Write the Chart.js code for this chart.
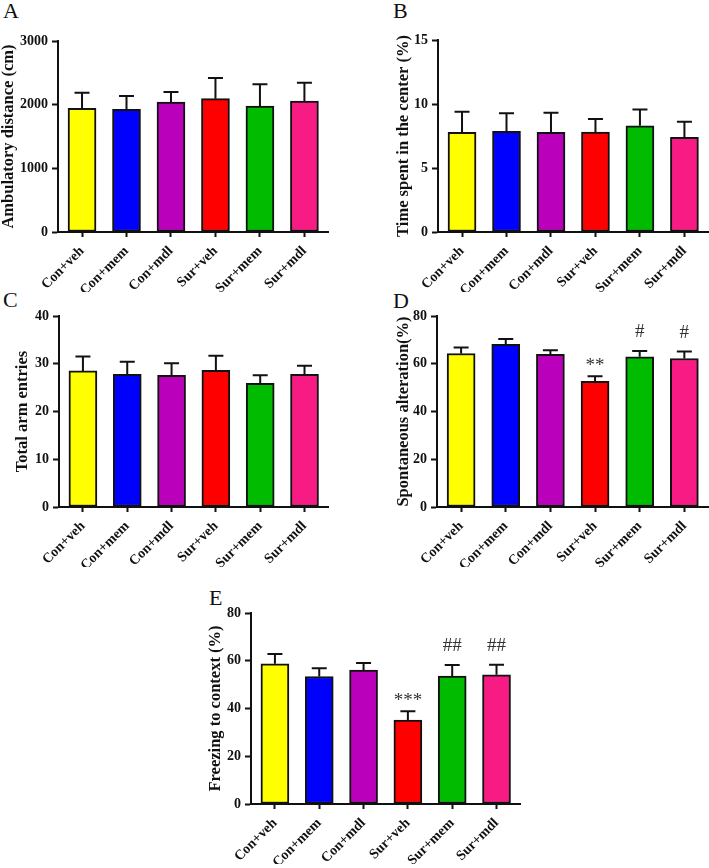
<!DOCTYPE html>
<html>
<head>
<meta charset="utf-8">
<script src="https://cdn.jsdelivr.net/npm/chart.js@4.4.0/dist/chart.umd.min.js"></script>
<style>
  html, body { margin: 0; padding: 0; background: #fff; }
  #page { position: relative; width: 709px; height: 868px; overflow: hidden; }
  #page canvas { position: absolute; }
  .tag { position: absolute; font-family: "Liberation Serif", "Times New Roman", serif; font-size: 22px; line-height: 22px; color: #111; }
</style>
</head>
<body>
<div id="page">
  <div class="tag" style="left:3px;top:0px">A</div>
  <div class="tag" style="left:393px;top:0px">B</div>
  <div class="tag" style="left:3px;top:289px">C</div>
  <div class="tag" style="left:393px;top:290px">D</div>
  <div class="tag" style="left:209px;top:587px">E</div>
  <canvas id="chartA"></canvas>
  <canvas id="chartB"></canvas>
  <canvas id="chartC"></canvas>
  <canvas id="chartD"></canvas>
  <canvas id="chartE"></canvas>
</div>
<script>
// groups + colours shared by every panel
const groups = ["Con+veh", "Con+mem", "Con+mdl", "Sur+veh", "Sur+mem", "Sur+mdl"];
const barColors = ["#ffff00", "#0000ff", "#bb00bb", "#ff0000", "#00bb00", "#f81b84"];

// A - open field, ambulatory distance
const distanceMean = [1943, 1927, 2042, 2094, 1979, 2058];
const distanceSem = [245, 209, 157, 325, 341, 287];

// B - open field, time in center
const centerMean = [7.78, 7.86, 7.78, 7.81, 8.30, 7.39];
const centerSem = [1.62, 1.41, 1.54, 1.02, 1.28, 1.23];

// C - Y maze, total arm entries
const entriesMean = [28.5, 27.8, 27.6, 28.6, 25.9, 27.8];
const entriesSem = [3.0, 2.6, 2.5, 3.1, 1.7, 1.8];

// D - Y maze, spontaneous alteration
const alterMean = [64.3, 68.1, 63.9, 52.6, 62.9, 62.2];
const alterSem = [2.5, 2.3, 1.8, 2.2, 2.4, 2.9];
const alterMarks = ["", "", "", "**", "#", "#"];

// E - fear conditioning
const freezeMean = [58.7, 53.4, 56.1, 35.2, 53.6, 54.1];
const freezeSem = [4.1, 3.5, 3.0, 3.7, 4.6, 4.2];
const freezeMarks = ["", "", "", "***", "##", "##"];

const SERIF = "'Liberation Serif', 'Times New Roman', serif";

// error bars (upper only) and significance marks
function makeErrorPlugin(mean, sem, marks) {
    return {
        id: "errorBars",
        afterDatasetsDraw(chart) {
            const { ctx, scales: { x, y } } = chart;
            ctx.save();
            ctx.strokeStyle = "#111";
            ctx.lineWidth = 2;
            mean.forEach((m, i) => {
                const px = x.getPixelForValue(i);
                const yb = y.getPixelForValue(m);
                const yt = y.getPixelForValue(m + sem[i]);
                ctx.beginPath();
                ctx.moveTo(px, yb);
                ctx.lineTo(px, yt);
                ctx.moveTo(px - 7.5, yt);
                ctx.lineTo(px + 7.5, yt);
                ctx.stroke();
                if (marks && marks[i]) {
                    const star = marks[i][0] === "*";
                    ctx.fillStyle = "#333";
                    ctx.font = "19px " + SERIF;
                    ctx.textAlign = "center";
                    ctx.textBaseline = "alphabetic";
                    ctx.fillText(marks[i], px, yt - (star ? 5 : 14));
                }
            });
            ctx.restore();
        },
    };
}

function renderPanel(p) {
    const canvas = document.getElementById(p.id);
    canvas.width = p.box[2];
    canvas.height = p.box[3];
    canvas.style.left = p.box[0] + "px";
    canvas.style.top = p.box[1] + "px";

    new Chart(canvas.getContext("2d"), {
        type: "bar",
        data: {
            datasets: [{
                data: p.mean.map((v, i) => ({ x: i, y: v })),
                backgroundColor: barColors,
                borderColor: "#111",
                borderWidth: 2,
                borderSkipped: false,
                barThickness: 28,
            }],
        },
        options: {
            responsive: false,
            animation: false,
            events: [],
            layout: { padding: { top: p.padTop, right: p.padRight, left: 0, bottom: 0 } },
            plugins: { legend: { display: false }, tooltip: { enabled: false } },
            scales: {
                x: {
                    type: "linear",
                    offset: false,
                    min: -0.54,
                    max: 5.53,
                    afterBuildTicks: (s) => { s.ticks = groups.map((g, i) => ({ value: i })); },
                    afterFit: (s) => { s.height = p.xHeight; },
                    ticks: {
                        callback: (v) => groups[v],
                        autoSkip: false,
                        maxRotation: 45,
                        minRotation: 45,
                        padding: 6,
                        color: "#111",
                        font: { family: SERIF, size: 14, weight: "bold" },
                    },
                    grid: { offset: false, drawOnChartArea: false, tickLength: 5, tickWidth: 2, tickColor: "#111" },
                    border: { color: "#111", width: 2 },
                },
                y: {
                    min: 0,
                    max: p.yMax,
                    afterFit: (s) => { s.width = p.yWidth; },
                    ticks: {
                        stepSize: p.yStep,
                        padding: 4,
                        color: "#111",
                        callback: (v) => String(v),
                        font: { family: SERIF, size: 14, weight: "bold" },
                    },
                    grid: { drawOnChartArea: false, tickLength: 6, tickWidth: 2, tickColor: "#111" },
                    border: { color: "#111", width: 2 },
                    title: {
                        display: true,
                        text: p.title,
                        color: "#111",
                        padding: 0,
                        font: { family: SERIF, size: 16.5, weight: "bold", lineHeight: 1 },
                    },
                },
            },
        },
        plugins: [makeErrorPlugin(p.mean, p.sem, p.marks)],
    });
}

renderPanel({ id: "chartA", mean: distanceMean, sem: distanceSem, marks: null,
    title: "Ambulatory distance (cm)", yMax: 3000, yStep: 1000,
    box: [0, 26, 338, 266], yWidth: 58, padTop: 15, padRight: 10, xHeight: 60 });
renderPanel({ id: "chartB", mean: centerMean, sem: centerSem, marks: null,
    title: "Time spent in the center (%)", yMax: 15, yStep: 5,
    box: [395, 25, 314, 267], yWidth: 43, padTop: 15, padRight: 1, xHeight: 60 });
renderPanel({ id: "chartC", mean: entriesMean, sem: entriesSem, marks: null,
    title: "Total arm entries", yMax: 40, yStep: 10,
    box: [14, 301, 324, 266], yWidth: 45, padTop: 15, padRight: 10, xHeight: 60 });
renderPanel({ id: "chartD", mean: alterMean, sem: alterSem, marks: alterMarks,
    title: "Spontaneous alteration(%)", yMax: 80, yStep: 20,
    box: [395, 301, 314, 266], yWidth: 42, padTop: 15, padRight: 1, xHeight: 60 });
renderPanel({ id: "chartE", mean: freezeMean, sem: freezeSem, marks: freezeMarks,
    title: "Freezing to context (%)", yMax: 80, yStep: 20,
    box: [207, 598, 323, 266], yWidth: 44, padTop: 15, padRight: 10, xHeight: 60 });
</script>
</body>
</html>
